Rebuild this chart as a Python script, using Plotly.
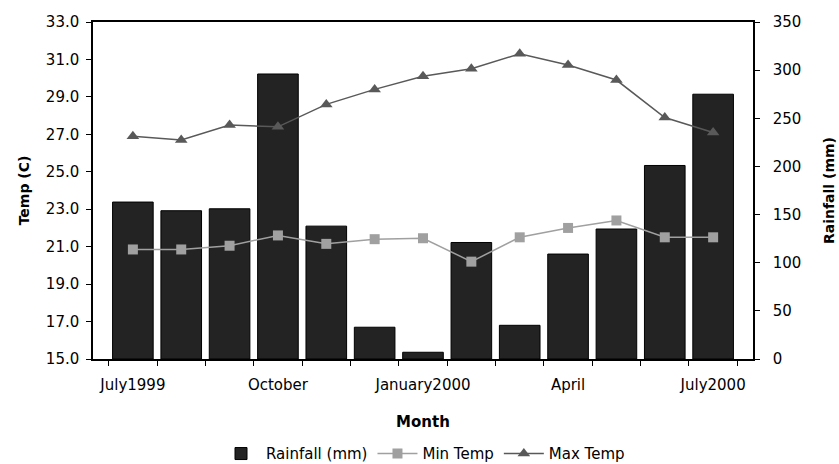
import plotly.graph_objects as go

months = ["Jul 1999", "Aug 1999", "Sep 1999", "Oct 1999", "Nov 1999", "Dec 1999",
          "Jan 2000", "Feb 2000", "Mar 2000", "Apr 2000", "May 2000", "Jun 2000", "Jul 2000"]
tick_labels = ["July1999", "", "", "October", "", "", "January2000", "", "", "April", "", "", "July2000"]
rainfall = [163, 154, 156, 296, 138, 33, 7, 121, 35, 109, 135, 201, 275]
min_temp = [20.85, 20.85, 21.05, 21.6, 21.15, 21.4, 21.45, 20.2, 21.5, 22.0, 22.4, 21.5, 21.5]
max_temp = [26.9, 26.7, 27.5, 27.4, 28.6, 29.4, 30.1, 30.5, 31.3, 30.7, 29.9, 27.9, 27.1]

FONT = "DejaVu Sans"

fig = go.Figure()
fig.add_trace(go.Bar(
    x=months, y=rainfall, name="Rainfall (mm)", yaxis="y",
    marker=dict(color="#232323", line=dict(color="#000000", width=1)),
))
fig.add_trace(go.Scatter(
    x=months, y=min_temp, name="Min Temp", yaxis="y2", mode="lines+markers",
    line=dict(color="#a0a0a0", width=1.5),
    marker=dict(symbol="square", size=10, color="#a0a0a0"),
))
fig.add_trace(go.Scatter(
    x=months, y=max_temp, name="Max Temp", yaxis="y2", mode="lines+markers",
    line=dict(color="#595959", width=1.5),
    marker=dict(symbol="triangle-up", size=11, color="#595959"),
))

fig.update_layout(
    width=839, height=464,
    margin=dict(l=93, r=86, t=22, b=105, autoexpand=False),
    paper_bgcolor="white", plot_bgcolor="white",
    font=dict(family=FONT, size=15, color="black"),
    bargap=0.16,
    showlegend=True,
    legend=dict(orientation="h", x=0.5, xanchor="center",
                yref="container", y=0.022, yanchor="middle",
                font=dict(family=FONT, size=15), itemwidth=40, tracegroupgap=0),
    xaxis=dict(
        type="category", tickmode="array", tickvals=months, ticktext=tick_labels,
        tickson="boundaries", ticks="outside", ticklen=5, tickcolor="black",
        tickangle=0, automargin=False,
        showline=True, linecolor="black", linewidth=1.5, mirror=True,
        showgrid=False, zeroline=False, ticklabelstandoff=11,
        title=dict(text="<b>Month</b>", font=dict(family=FONT, size=15), standoff=24),
    ),
    yaxis=dict(
        side="right", range=[0, 350], dtick=50, tick0=0, automargin=False,
        ticks="outside", ticklen=5, tickcolor="black",
        showline=True, linecolor="black", linewidth=1.5,
        showgrid=False, zeroline=False, ticklabelstandoff=10,
        title=dict(text="<b>Rainfall (mm)</b>", font=dict(family=FONT, size=14), standoff=24),
    ),
    yaxis2=dict(
        side="left", overlaying="y", range=[15, 33], dtick=2, tick0=15, tickformat=".1f",
        automargin=False,
        ticks="outside", ticklen=5, tickcolor="black",
        showline=True, linecolor="black", linewidth=1.5,
        showgrid=False, zeroline=False, ticklabelstandoff=4,
        title=dict(text="<b>Temp (C)</b>", font=dict(family=FONT, size=14), standoff=13),
    ),
)

fig.write_html("out.html", config={"displayModeBar": False},
               post_script="document.body.style.margin='0';")
